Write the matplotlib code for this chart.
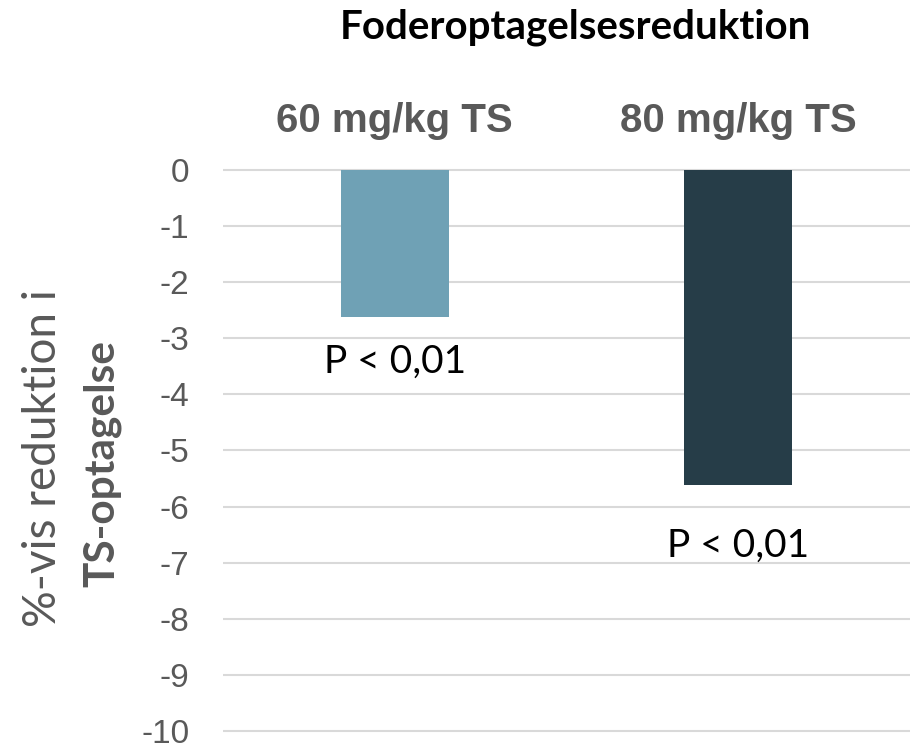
import numpy as np
import matplotlib
matplotlib.use('Agg')
import matplotlib.pyplot as plt

# Feed intake reduction per dose (% change in DM intake)
doses = ['60 mg/kg TS', '80 mg/kg TS']
reduction = [-2.63, -5.61]
p_labels = ['P < 0,01', 'P < 0,01']
yticks = list(range(0, -11, -1))

colours = ['#6FA1B5', '#263D48']
label_offsets = [-19, -31]   # points below bar end

fig = plt.figure(figsize=(9.1, 7.46), dpi=100)
ax = fig.add_axes([0.245, 0.0174, 0.755, 0.7575])

x = np.arange(len(doses))
ax.bar(x, reduction, width=0.315, color=colours, zorder=3)

for xi, val, lab, off in zip(x, reduction, p_labels, label_offsets):
    ax.annotate(lab, (xi, val), xytext=(0, off), textcoords='offset points',
                ha='center', va='top', fontsize=28, family='Lato',
                color='black')

ax.set_xlim(-0.5, 1.5)
ax.set_ylim(-10.03, 0.03)
ax.set_yticks(yticks)
ax.set_yticklabels([str(t) for t in yticks])
ax.yaxis.grid(True, color='#D9D9D9', linewidth=1.5, zorder=0)
ax.set_axisbelow(True)

ax.xaxis.tick_top()
ax.set_xticks(x)
ax.set_xticklabels(doses, fontsize=29, fontweight='bold', color='#595959',
                   family='Liberation Sans')
ax.tick_params(axis='x', length=0, pad=20)
ax.tick_params(axis='y', length=0, pad=24, labelsize=24, labelcolor='#595959')
for t in ax.get_yticklabels():
    t.set_family('Liberation Sans')

for s in ax.spines.values():
    s.set_visible(False)

# two-line axis label: regular line + bold line
fig.text(0.047, 0.386, '%-vis reduktion i', rotation=90, ha='center', va='center',
         fontsize=33, family='Lato', color='#595959')
fig.text(0.112, 0.379, 'TS-optagelse', rotation=90, ha='center', va='center',
         fontsize=30.5, family='Lato', fontweight='bold', color='#595959')

fig.text(0.632, 0.963, 'Foderoptagelsesreduktion', ha='center', va='center',
         fontsize=29, family='Lato', fontweight='bold', color='black')

fig.savefig('out.png', dpi=100)
